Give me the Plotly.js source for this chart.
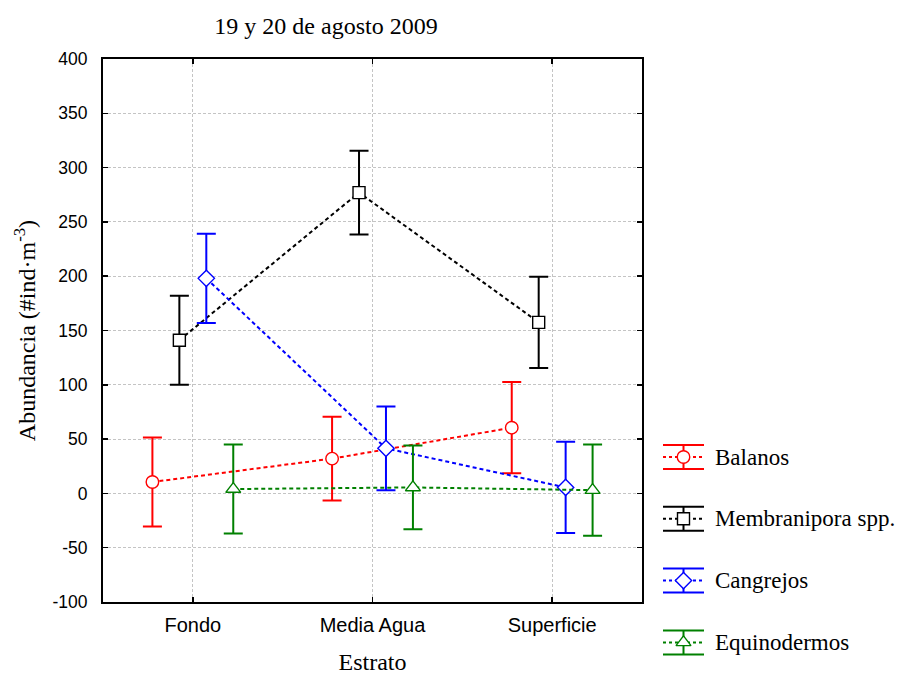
<!DOCTYPE html>
<html>
<head>
<meta charset="utf-8">
<script src="https://cdn.plot.ly/plotly-3.0.1.min.js"></script>
<style>
  html, body { margin: 0; padding: 0; background: #fff; }
  #chart { width: 909px; height: 675px; }
</style>
</head>
<body>
<div id="chart"></div>
<script>
// Strata sampled on 19-20 August 2009
const categories = ['Fondo', 'Media Agua', 'Superficie'];

// Abundance axis ticks (plain hyphen for negatives)
const yTickValues = [-100, -50, 0, 50, 100, 150, 200, 250, 300, 350, 400];
const yTickLabels = ['-100', '-50', '0', '50', '100', '150', '200', '250', '300', '350', '400'];

// Mean abundance (#ind·m^-3) per stratum, with the half-width of each interval
const balanos = [10.5, 32, 60.5];
const balanosErr = [41, 38.5, 42];

const membranipora = [141, 277, 157.5];
const membraniporaErr = [41, 38.5, 42];

const cangrejos = [198, 41.5, 5.5];
const cangrejosErr = [41, 38.5, 42];

const equinodermos = [4, 5.5, 3];
const equinodermosErr = [41, 38.5, 42];

const seriesNames = ['Balanos', 'Membranipora spp.', 'Cangrejos', 'Equinodermos'];

// Styling for each group
const styles = [
  { color: '#ff0000', symbol: 'circle', size: 12.5 },
  { color: '#000000', symbol: 'square', size: 12 },
  { color: '#0000ff', symbol: 'diamond', size: 12.5 },
  { color: '#008000', symbol: 'triangle-up', size: 13 }
];
const seriesValues = [balanos, membranipora, cangrejos, equinodermos];
const seriesErrors = [balanosErr, membraniporaErr, cangrejosErr, equinodermosErr];

// side-by-side dodge of the groups around each stratum
const dodge = [-0.225, -0.075, 0.075, 0.225];
const DASH = '4px,3px';

const W = 909, H = 675;
const plotLeft = 103, plotRight = 642, plotTop = 59, plotBottom = 602;

const traces = [];
seriesValues.forEach((vals, i) => {
  const st = styles[i];
  traces.push({
    type: 'scatter',
    mode: 'lines+markers',
    name: seriesNames[i],
    x: categories.map((_, j) => j + dodge[i]),
    y: vals,
    line: { color: st.color, width: 2, dash: DASH },
    marker: { symbol: st.symbol, size: st.size, color: '#ffffff',
              line: { color: st.color, width: 1.4 } },
    error_y: { type: 'data', array: seriesErrors[i], visible: true,
               color: st.color, thickness: 2, width: 9.5 },
    showlegend: false,
    hoverinfo: 'x+y'
  });
});

// Key drawn on its own pixel-scaled subplot to the right, so every
// glyph can carry the same interval whiskers as the plotted marks.
const keyTop = 457, keyGap = 61.8;
const keyX = 683.5, keyHalf = 20.5, keyWhisker = 12;
const annotations = [];
seriesNames.forEach((name, i) => {
  const st = styles[i];
  const row = keyTop + i * keyGap;
  traces.push({
    type: 'scatter', mode: 'lines', xaxis: 'x2', yaxis: 'y2',
    x: [keyX - keyHalf, keyX + keyHalf], y: [row, row],
    line: { color: st.color, width: 2, dash: '3px,3px' },
    showlegend: false, hoverinfo: 'skip', cliponaxis: false
  });
  traces.push({
    type: 'scatter', mode: 'markers', xaxis: 'x2', yaxis: 'y2',
    x: [keyX], y: [row],
    marker: { symbol: st.symbol, size: st.size, color: '#ffffff',
              line: { color: st.color, width: 1.4 } },
    error_y: { type: 'constant', value: keyWhisker, visible: true,
               color: st.color, thickness: 2, width: keyHalf },
    showlegend: false, hoverinfo: 'skip', cliponaxis: false
  });
  annotations.push({
    xref: 'x2', yref: 'y2', x: 713, y: row,
    xanchor: 'left', yanchor: 'middle', showarrow: false,
    text: name,
    font: { family: 'Liberation Serif, Times New Roman, serif', size: 23, color: '#000' }
  });
});

const tickFont = { family: 'Liberation Sans, Arial, sans-serif', color: '#000' };
const serif = 'Liberation Serif, Times New Roman, serif';

const layout = {
  width: W, height: H,
  margin: { l: 0, r: 0, t: 0, b: 0 },
  paper_bgcolor: '#ffffff',
  plot_bgcolor: '#ffffff',
  showlegend: false,
  title: {
    text: '19 y 20 de agosto 2009',
    font: { family: serif, size: 24, color: '#000' },
    xref: 'container', yref: 'container',
    x: 326 / W, xanchor: 'center',
    y: 1 - 26 / H, yanchor: 'middle'
  },
  xaxis: {
    domain: [plotLeft / W, plotRight / W],
    range: [-0.5, 2.5],
    tickmode: 'array', tickvals: [0, 1, 2], ticktext: categories,
    showgrid: true, gridcolor: '#c4c4c4', gridwidth: 1, griddash: '3px,2px',
    zeroline: false,
    showline: true, linecolor: '#000', linewidth: 2, mirror: 'ticks',
    ticks: 'inside', ticklen: 5, tickwidth: 1.5, tickcolor: '#000',
    ticklabelstandoff: 4,
    tickfont: Object.assign({ size: 20 }, tickFont),
    title: { text: 'Estrato', font: { family: serif, size: 24, color: '#000' }, standoff: 25 },
    fixedrange: true
  },
  yaxis: {
    domain: [1 - plotBottom / H, 1 - plotTop / H],
    range: [-100, 400],
    tickmode: 'array', tickvals: yTickValues, ticktext: yTickLabels,
    showgrid: true, gridcolor: '#c4c4c4', gridwidth: 1, griddash: '3px,2px',
    zeroline: false,
    showline: true, linecolor: '#000', linewidth: 2, mirror: 'ticks',
    ticks: 'inside', ticklen: 5, tickwidth: 1.5, tickcolor: '#000',
    ticklabelstandoff: 10,
    tickfont: Object.assign({ size: 17.5 }, tickFont),
    title: { text: 'Abundancia (#ind·m<sup>-3</sup>)', font: { family: serif, size: 24, color: '#000' }, standoff: 10 },
    fixedrange: true
  },
  xaxis2: {
    domain: [650 / W, 1], range: [650, W], anchor: 'y2',
    visible: false, fixedrange: true
  },
  yaxis2: {
    domain: [0, 1], range: [H, 0], anchor: 'x2',
    visible: false, fixedrange: true
  },
  annotations: annotations
};

Plotly.newPlot('chart', traces, layout, { displayModeBar: false, staticPlot: true });
</script>
</body>
</html>
